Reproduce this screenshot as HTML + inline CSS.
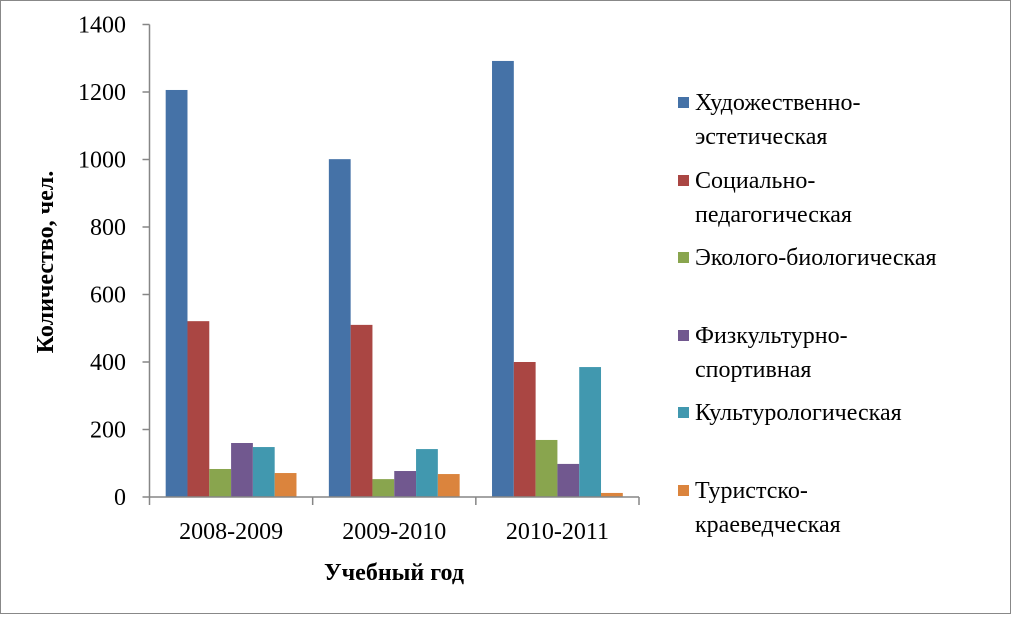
<!DOCTYPE html>
<html><head><meta charset="utf-8"><style>
body{margin:0;background:#fff}
svg text{font-family:"Liberation Serif",serif;fill:#000}
</style></head><body>
<svg id="chart" width="1011" height="614" xmlns="http://www.w3.org/2000/svg">
<rect x="0.5" y="0.5" width="1010" height="613" fill="#fff" stroke="#888"/>
<g id="plot"></g>
<text x="394" y="580" font-size="24" font-weight="bold" text-anchor="middle">Учебный год</text>
<text transform="translate(53,262) rotate(-90)" font-size="24" font-weight="bold" text-anchor="middle">Количество, чел.</text>
<g id="legend"></g>
</svg>
<script>
const categories=["2008-2009","2009-2010","2010-2011"];
const seriesNames=["Художественно-эстетическая","Социально-педагогическая","Эколого-биологическая","Физкультурно-спортивная","Культурологическая","Туристско-краеведческая"];
const s0=[1206,1001,1292];
const s1=[521,510,400];
const s2=[83,53,169];
const s3=[160,77,98];
const s4=[148,142,385];
const s5=[71,68,12];
const yTicks=[0,200,400,600,800,1000,1200,1400];
const series=[s0,s1,s2,s3,s4,s5];
const colors=["#4572a7","#aa4643","#89a54e","#71588f","#4198af","#db843d"];
const legendLines=[["Художественно-","эстетическая"],["Социально-","педагогическая"],["Эколого-биологическая"],["Физкультурно-","спортивная"],["Культурологическая"],["Туристско-","краеведческая"]];
const NS="http://www.w3.org/2000/svg";
const x0=149.5,x1=639,y0=497,yTop=24.5,yMax=1400;
const y=v=>y0-(v/yMax)*(y0-yTop);
const gw=(x1-x0)/categories.length,bw=21.8,pad=(gw-bw*6)/2;
const plot=document.getElementById('plot');
function mk(t,a,p){const e=document.createElementNS(NS,t);for(const k in a)e.setAttribute(k,a[k]);(p||plot).appendChild(e);return e;}
series.forEach((s,si)=>s.forEach((v,ci)=>{
const r=mk('rect',{x:x0+ci*gw+pad+si*bw,y:y(v),width:bw,height:y0-y(v),fill:colors[si]});


}));
let ax=mk('line',{x1:x0,y1:yTop,x2:x0,y2:y0,stroke:'#868686','stroke-width':1.5});


ax=mk('line',{x1:x0,y1:y0,x2:x1,y2:y0,stroke:'#868686','stroke-width':1.5});


yTicks.forEach(t=>{
mk('line',{x1:x0-7,y1:y(t),x2:x0,y2:y(t),stroke:'#868686','stroke-width':1.5});
const tx=mk('text',{x:126,y:y(t)+8,'font-size':24,'text-anchor':'end'});tx.textContent=t;


});
for(let i=0;i<=categories.length;i++)mk('line',{x1:x0+i*gw,y1:y0,x2:x0+i*gw,y2:y0+8,stroke:'#868686','stroke-width':1.5});
categories.forEach((c,i)=>{
const tx=mk('text',{x:x0+i*gw+gw/2,y:539,'font-size':24,'text-anchor':'middle'});tx.textContent=c;


});
const lg=document.getElementById('legend');
const ly=[102,180,257,335,412,490];
legendLines.forEach((ls,i)=>{
const g=mk('g',{},lg);


mk('rect',{x:678,y:ly[i]-5,width:11,height:11,fill:colors[i]},g);
ls.forEach((l,j)=>{const t=mk('text',{x:695,y:ly[i]+8+j*34,'font-size':24},g);t.textContent=l;});
});
</script>
</body></html>
